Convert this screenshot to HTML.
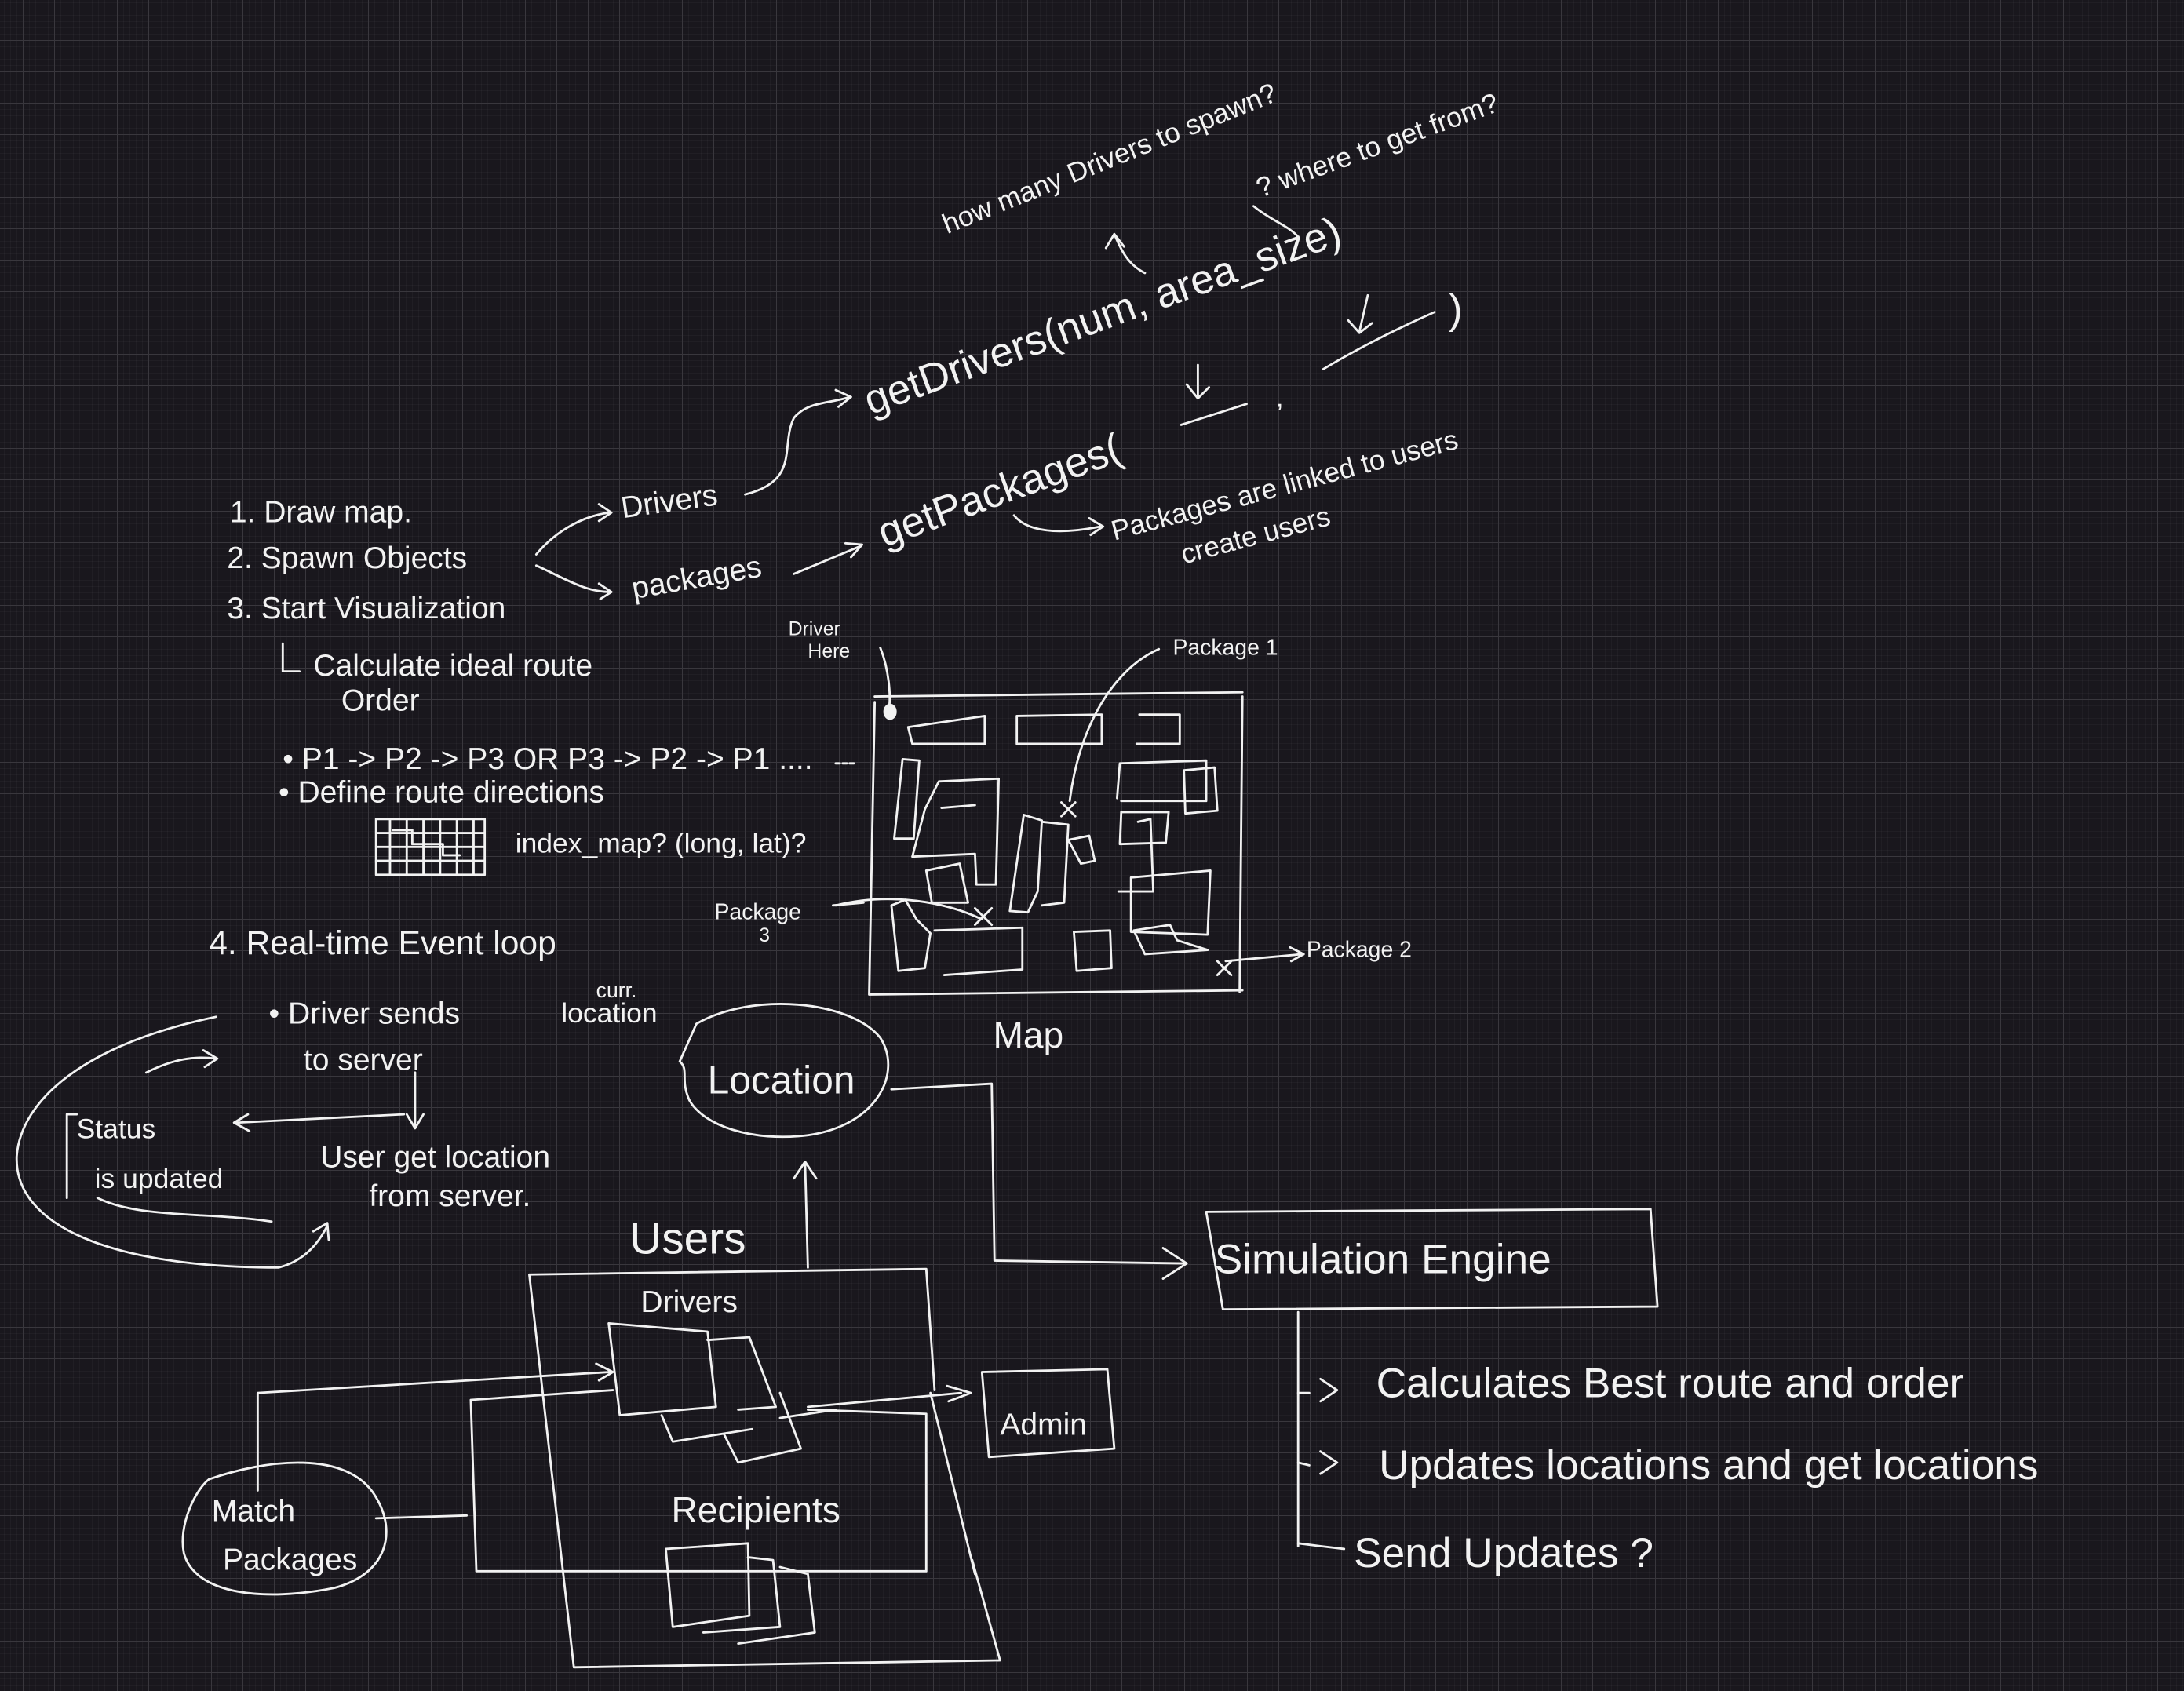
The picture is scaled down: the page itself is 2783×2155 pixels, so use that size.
<!DOCTYPE html>
<html><head><meta charset="utf-8">
<style>
html,body{margin:0;padding:0;}
body{width:2783px;height:2155px;overflow:hidden;background-color:#19171d;
background-image:
linear-gradient(rgba(255,255,255,0.03) 1px,transparent 1px),
linear-gradient(90deg,rgba(255,255,255,0.03) 1px,transparent 1px);
background-size:8px 8px,8px 8px;background-position:5px 3px;
}
.g{position:absolute;left:0;top:0;width:2783px;height:2155px;
background-image:linear-gradient(#39373d 1px,transparent 1px),linear-gradient(90deg,#39373d 1px,transparent 1px);
background-size:40px 40px;background-position:29px 11px;}
svg{position:absolute;left:0;top:0;}
text{fill:#f2f2f2;font-family:"Liberation Sans",sans-serif;font-weight:normal;}
path,line,rect,ellipse,polyline{stroke:#f2f2f2;fill:none;stroke-width:1.6;stroke-linecap:round;stroke-linejoin:round;}
</style></head><body>
<div class="g"></div>
<svg width="2783" height="2155" viewBox="0 0 1568 1214" preserveAspectRatio="none">
<text x="680" y="168" font-size="20" transform="rotate(-22 680 168)">how many Drivers to spawn?</text>
<text x="905" y="142" font-size="20" transform="rotate(-20 905 142)">? where to get from?</text>
<path d="M822 196 C810 190 805 180 800 168 M794 178 L800 168 L807 177"/>
<path d="M900 148 C912 158 925 162 932 170"/>
<text x="625" y="298" font-size="30" transform="rotate(-20 625 298)">getDrivers(num, area_size)</text>
<path d="M860 262 L860 285 M852 276 L860 286 L868 278"/>
<path d="M848 305 L895 290"/>
<text x="916" y="292" font-size="20">,</text>
<path d="M982 212 L976 238 M968 230 L976 239 L985 232"/>
<path d="M950 265 C975 250 1005 235 1030 224"/>
<text x="1040" y="232" font-size="30">)</text>
<text x="635" y="393" font-size="30" transform="rotate(-20 635 393)">getPackages(</text>
<path d="M728 370 C740 385 770 382 790 378 M782 372 L792 378 L783 384"/>
<text x="800" y="388" font-size="20" transform="rotate(-15 800 388)">Packages are linked to users</text>
<text x="850" y="405" font-size="20" transform="rotate(-15 850 405)">create users</text>
<text x="165" y="375" font-size="22">1. Draw map.</text>
<text x="163" y="408" font-size="22">2. Spawn Objects</text>
<text x="163" y="444" font-size="22">3. Start Visualization</text>
<path d="M385 398 C400 380 420 370 438 368 M430 362 L439 368 L430 374"/>
<path d="M385 406 C405 415 420 425 438 425 M430 419 L439 425 L431 430"/>
<text x="447" y="372" font-size="22" transform="rotate(-8 447 372)">Drivers</text>
<text x="455" y="430" font-size="22" transform="rotate(-10 455 430)">packages</text>
<path d="M535 355 C575 345 560 320 570 300 C580 288 595 290 610 285 M600 280 L611 285 L602 292"/>
<path d="M570 412 L618 392 M607 390 L619 391 L611 400"/>
<path d="M203 462 L203 482 L215 482"/>
<text x="225" y="485" font-size="22">Calculate ideal route</text>
<text x="245" y="510" font-size="22">Order</text>
<text x="203" y="552" font-size="22">• P1 -&gt; P2 -&gt; P3  OR  P3 -&gt; P2 -&gt; P1 ....</text>
<text x="200" y="576" font-size="22">• Define route directions</text>
<g>
<rect x="270" y="588" width="78" height="40"/>
<path d="M280 588 L280 628 M292 588 L292 628 M304 588 L304 628 M316 588 L316 628 M328 588 L328 628 M340 588 L340 628 M270 598 L348 598 M270 608 L348 608 M270 618 L348 618"/>
<path d="M282 596 L296 596 L296 606 L318 606 L318 614 L330 614" stroke-width="3"/>
</g>
<text x="370" y="612" font-size="20">index_map? (long, lat)?</text>
<text x="566" y="456" font-size="14">Driver</text>
<text x="580" y="472" font-size="14">Here</text>
<path d="M632 465 C638 480 640 500 638 510"/>
<ellipse cx="639" cy="511" rx="4" ry="5" style="fill:#f2f2f2"/>
<text x="842" y="470" font-size="16">Package 1</text>
<path d="M832 466 C800 480 775 520 768 575"/>
<text x="513" y="660" font-size="16">Package</text>
<text x="545" y="676" font-size="14">3</text>
<path d="M598 650 L620 648 M600 650 C640 640 680 648 705 660"/>
<text x="938" y="687" font-size="16">Package 2</text>
<path d="M880 690 L935 685 M926 680 L936 685 L927 690"/>
<path d="M600 548 L615 548" stroke-dasharray="3 2"/>
<path d="M628 500 L892 497 M892 500 L890 712 M628 504 L624 714 L892 711"/>
<path d="M652 522 L707 514 L707 534 L655 534 Z"/>
<path d="M730 514 L791 513 L791 534 L730 534 Z"/>
<path d="M818 513 L847 513 L847 534 L816 534"/>
<path d="M648 545 L660 546 L656 602 L642 602 Z"/>
<path d="M674 586 L684 566 L727 564 L725 640 L711 640 L710 618 L665 620 Z" transform="translate(-10 -5)"/>
<path d="M676 580 L700 578"/>
<path d="M735 585 L748 589 L745 640 L738 655 L725 654 Z"/>
<path d="M748 590 L767 592 L764 648 L748 650"/>
<path d="M767 603 L782 600 L786 618 L776 620 Z"/>
<path d="M802 573 L804 548 L866 546 L866 575 L805 575"/>
<path d="M817 590 L826 588 L828 640 L803 640"/>
<path d="M805 583 L839 583 L837 605 L804 606 Z"/>
<path d="M850 553 L872 551 L874 582 L851 584 Z"/>
<path d="M812 630 L869 625 L867 671 L812 669 Z"/>
<path d="M814 668 L840 664 L845 675 L867 682 L822 685 Z"/>
<path d="M671 668 L734 666 L734 696 L678 700"/>
<path d="M771 669 L797 668 L798 695 L773 697 Z"/>
<path d="M640 650 L650 646 L658 660 L668 670 L664 695 L645 697 Z"/>
<path d="M665 625 L689 620 L695 648 L669 648 Z"/>
<path d="M700 652 L712 664 M712 652 L700 664"/>
<path d="M762 576 L772 586 M772 576 L762 586"/>
<path d="M874 690 L884 700 M884 690 L874 700"/>
<text x="713" y="752" font-size="26">Map</text>
<text x="150" y="685" font-size="24">4. Real-time Event loop</text>
<text x="193" y="735" font-size="22">• Driver sends</text>
<text x="428" y="716" font-size="15">curr.</text>
<text x="403" y="734" font-size="20">location</text>
<text x="218" y="768" font-size="22">to server</text>
<path d="M298 770 L298 808 M292 800 L298 810 L304 800"/>
<path d="M290 800 L170 806 M178 800 L168 806 L179 812"/>
<text x="55" y="817" font-size="20">Status</text>
<text x="68" y="853" font-size="20">is updated</text>
<path d="M55 800 L48 800 L48 860"/>
<text x="230" y="838" font-size="22">User get location</text>
<text x="265" y="866" font-size="22">from server.</text>
<path d="M155 730 C60 750 15 790 12 830 C10 880 80 910 200 910 C220 905 230 890 235 880 M225 884 L235 878 L236 890"/>
<path d="M105 770 C125 760 140 758 155 760 M146 754 L156 760 L147 766"/>
<path d="M195 877 C150 870 100 875 70 860"/>
<path d="M500 735 C540 712 610 718 632 745 C648 770 630 808 580 815 C540 820 505 808 495 790 C488 775 495 768 488 762 Z"/>
<text x="508" y="785" font-size="28">Location</text>
<path d="M580 910 L578 835 M570 846 L578 834 L586 846"/>
<path d="M640 782 L712 778 L714 905 L850 907 M835 896 L852 907 L835 918"/>
<path d="M866 870 L1185 868 L1190 938 L878 940 Z"/>
<text x="872" y="914" font-size="30">Simulation Engine</text>
<path d="M932 942 L932 1110"/>
<path d="M932 1000 L940 1000 M948 990 L960 998 L948 1006"/>
<text x="988" y="1003" font-size="30">Calculates Best route and order</text>
<path d="M932 1050 L940 1052 M948 1042 L960 1050 L948 1058"/>
<text x="990" y="1062" font-size="30">Updates locations and get locations</text>
<path d="M932 1108 L948 1110 L965 1112"/>
<text x="972" y="1125" font-size="30">Send  Updates ?</text>
<text x="452" y="900" font-size="32">Users</text>
<path d="M380 915 L665 911 L671 998 M380 915 L412 1197 L718 1192 L698 1120 M700 1130 L668 1000"/>
<path d="M338 1005 L440 998 M338 1005 L342 1128 L665 1128 L665 1015 L580 1012 M560 1018 L600 1012 M580 1010 L690 1000 M680 995 L697 1000 L681 1006"/>
<text x="460" y="942" font-size="22">Drivers</text>
<path d="M437 950 L508 956 L514 1010 L445 1016 Z"/>
<path d="M508 962 L538 960 L557 1010 L530 1012"/>
<path d="M475 1016 L483 1035 L540 1026 M520 1030 L530 1050 L575 1040 L560 1000"/>
<path d="M185 1070 L185 1000 L438 985 M428 979 L440 985 L430 991"/>
<path d="M270 1090 L335 1088"/>
<text x="482" y="1093" font-size="26">Recipients</text>
<path d="M478 1112 L537 1108 L538 1160 L483 1168 Z"/>
<path d="M537 1118 L555 1120 L560 1168 L505 1172"/>
<path d="M560 1125 L580 1130 L585 1172 L530 1180"/>
<path d="M705 985 L795 983 L800 1040 L710 1046 Z"/>
<text x="718" y="1030" font-size="22">Admin</text>
<path d="M150 1062 C190 1048 250 1040 270 1075 C285 1100 278 1130 240 1140 C190 1150 140 1145 132 1115 C128 1095 140 1070 150 1062 Z"/>
<text x="152" y="1092" font-size="22">Match</text>
<text x="160" y="1127" font-size="22">Packages</text>
</svg>
</body></html>
